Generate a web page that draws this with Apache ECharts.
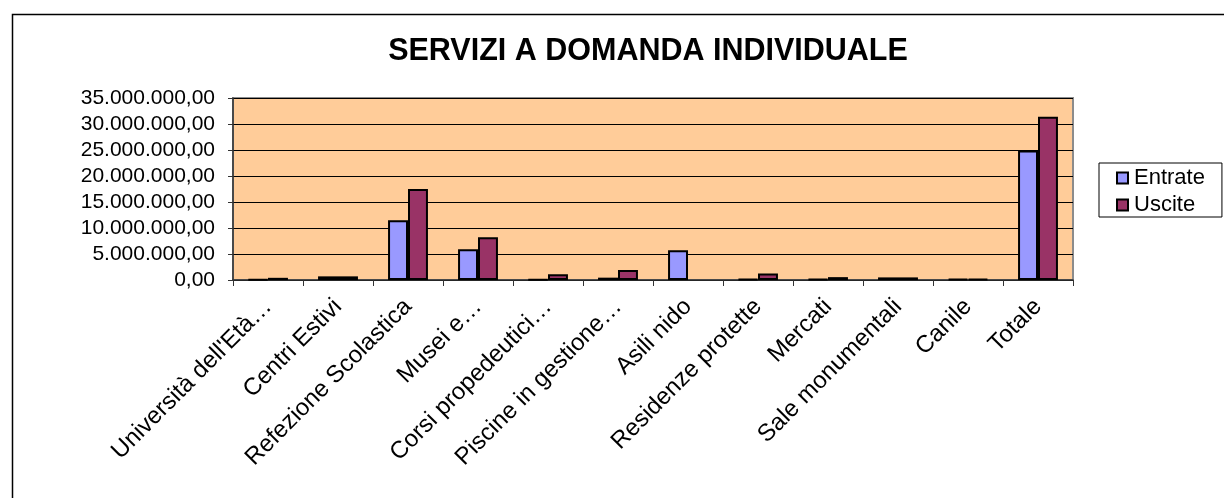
<!DOCTYPE html>
<html>
<head>
<meta charset="utf-8">
<script src="https://cdn.jsdelivr.net/npm/echarts@6/dist/echarts.min.js"></script>
<style>
  html, body { margin: 0; padding: 0; background: #fff; }
  #chart { width: 1224px; height: 498px; }
</style>
</head>
<body>
<div id="chart"></div>
<script>
// categories and values
const categories = [
  "Università dell'Età…", 'Centri Estivi', 'Refezione Scolastica', 'Musei e…',
  'Corsi propedeutici…', 'Piscine in gestione…', 'Asili nido', 'Residenze protette',
  'Mercati', 'Sale monumentali', 'Canile', 'Totale'
];
const entrate = [100000, 700000, 11500000, 5900000, 80000, 450000, 5700000, 150000, 150000, 500000, 200000, 24900000];
const uscite = [420000, 700000, 17500000, 8200000, 1100000, 1930000, null, 1250000, 550000, 500000, 200000, 31400000];
const seriesNames = ['Entrate', 'Uscite'];
const seriesColors = ['#9999FF', '#993366'];

const fontFamily = '"Liberation Sans", Arial, sans-serif';

// 35000000 -> "35.000.000,00"
const formatIt = (v) => {
  const s = Math.round(v).toString().replace(/\B(?=(\d{3})+(?!\d))/g, '.');
  return s + ',00';
};

const chart = echarts.init(document.getElementById('chart'));

const option = {
  backgroundColor: '#fff',
  animation: false,
  title: {
    text: 'SERVIZI A DOMANDA INDIVIDUALE',
    left: 643,
    top: 31,
    textAlign: 'center',
    textStyle: {
      fontFamily,
      fontSize: 30.5,
      fontWeight: 'bold',
      color: '#000'
    }
  },
  legend: {
    orient: 'vertical',
    left: 1099,
    top: 163,
    padding: [4, 17, 1, 17],
    itemGap: 5,
    itemWidth: 11,
    itemHeight: 11,
    icon: 'rect',
    borderColor: '#000',
    borderWidth: 1,
    backgroundColor: '#fff',
    textStyle: { fontFamily, fontSize: 22, color: '#000', padding: [0, 0, 0, 1] }
  },
  grid: {
    left: 233,
    right: 151,
    top: 98,
    bottom: 218,
    show: true,
    backgroundColor: '#FFCC99',
    borderColor: '#8c8c8c',
    borderWidth: 2,
    containLabel: false
  },
  xAxis: {
    type: 'category',
    data: categories,
    axisLine: { lineStyle: { color: '#333', width: 1.5 } },
    axisTick: { show: true, length: 6, lineStyle: { color: '#333' } },
    axisLabel: {
      rotate: 45,
      interval: 0,
      margin: 23,
      fontFamily,
      fontSize: 24,
      color: '#000'
    }
  },
  yAxis: {
    type: 'value',
    min: 0,
    max: 35000000,
    interval: 5000000,
    axisLine: { show: true, lineStyle: { color: '#333', width: 1.5 } },
    axisTick: { show: true, length: 5, lineStyle: { color: '#333' } },
    splitLine: { lineStyle: { color: '#000', width: 1.2 } },
    axisLabel: {
      formatter: formatIt,
      margin: 18,
      fontFamily,
      fontSize: 21,
      color: '#000'
    }
  },
  series: [
    {
      name: seriesNames[0],
      type: 'bar',
      data: entrate,
      barGap: '0%',
      barCategoryGap: '43%',
      itemStyle: { color: seriesColors[0], borderColor: '#000', borderWidth: 2 }
    },
    {
      name: seriesNames[1],
      type: 'bar',
      data: uscite,
      barGap: '0%',
      barCategoryGap: '43%',
      itemStyle: { color: seriesColors[1], borderColor: '#000', borderWidth: 2 }
    }
  ],
  graphic: [
    {
      type: 'rect',
      left: 10,
      top: 12,
      shape: { width: 1240, height: 520 },
      style: { fill: 'none', stroke: '#000', lineWidth: 1.5 },
      silent: true,
      z: 100
    }
  ]
};

chart.setOption(option);
</script>
</body>
</html>
